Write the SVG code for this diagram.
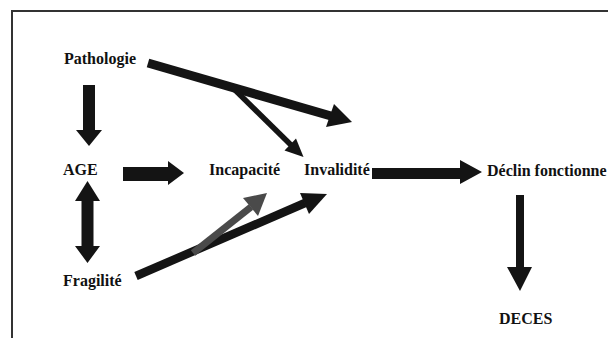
<svg xmlns="http://www.w3.org/2000/svg" width="608" height="338" viewBox="0 0 608 338">
  <style>
    .lbl { font-family: "Liberation Serif", "Times New Roman", serif; font-weight: bold; font-size: 16px; fill: #111; }
    .blk { fill: #141414; }
    .gry { fill: #4a4a4a; }
    .shaft { stroke: #141414; stroke-linecap: butt; fill: none; }
    .gshaft { stroke: #4a4a4a; stroke-linecap: butt; fill: none; }
    .frame { stroke: #333; stroke-width: 2; fill: none; }
  </style>
  <rect width="608" height="338" fill="#fff"/>
  <path class="frame" d="M12,340 L12,11 L610,11"/>

  <g id="connectors">
    <!-- Pathologie -> AGE -->
    <polygon class="blk" points="83,85 95,85 95,130 102,130 89,146 76,130 83,130"/>
    <!-- AGE <-> Fragilite -->
    <polygon class="blk" points="87.5,181 100,201 93.5,201 93.5,246 100,246 87.5,263 75,246 81.5,246 81.5,201 75,201"/>
    <!-- AGE -> Incapacite -->
    <polygon class="blk" points="123,167 168,167 168,161 184,173 168,185 168,181 123,181"/>
    <!-- Invalidite -> Declin -->
    <polygon class="blk" points="372,168 460,168 460,160 482,172 460,184 460,179 372,179"/>
    <!-- Declin -> DECES -->
    <polygon class="blk" points="516,195 524,195 524,267 532,267 520,291 507,267 516,267"/>
    <!-- Pathologie long arrow -->
    <line class="shaft" x1="148" y1="63" x2="331" y2="116" stroke-width="9"/>
    <polygon class="blk" points="334,104 352,122 326,127"/>
    <!-- Pathologie branch -> Invalidite -->
    <line class="shaft" x1="232" y1="87" x2="291" y2="145" stroke-width="5.5"/>
    <polygon class="blk" points="284.5,150.5 303.5,157 296,138.5"/>
    <!-- Fragilite -> Invalidite -->
    <line class="shaft" x1="136" y1="276" x2="305" y2="203" stroke-width="8.5"/>
    <polygon class="blk" points="300,193 327,194 309,214"/>
    <!-- Fragilite branch -> Incapacite (gray) -->
    <line class="gshaft" x1="193" y1="253" x2="251" y2="207" stroke-width="7"/>
    <polygon class="gry" points="243,198 267,193 258,216"/>
  </g>

  <g id="node-pathologie"><text class="lbl" x="64" y="64">Pathologie</text></g>
  <g id="node-age"><text class="lbl" x="63" y="175">AGE</text></g>
  <g id="node-incapacite"><text class="lbl" x="209" y="175">Incapacité</text></g>
  <g id="node-invalidite"><text class="lbl" x="304" y="175">Invalidité</text></g>
  <g id="node-declin"><text class="lbl" x="487" y="176">Déclin fonctionne</text></g>
  <g id="node-fragilite"><text class="lbl" x="63" y="286">Fragilité</text></g>
  <g id="node-deces"><text class="lbl" x="499" y="324">DECES</text></g>
</svg>
